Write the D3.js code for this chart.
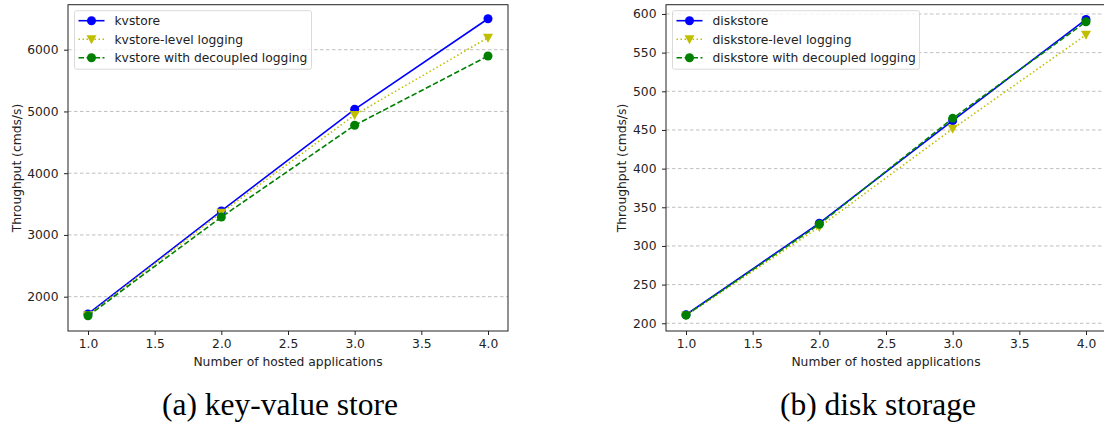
<!DOCTYPE html>
<html>
<head>
<meta charset="utf-8">
<script src="https://cdn.jsdelivr.net/npm/d3@7"></script>
<style>
  body { margin: 0; background: #fff; }
  svg { display: block; }
  .tick text { font-family: "DejaVu Sans", sans-serif; font-size: 12.3px; fill: #222; }
  .grid-line { stroke: #b0b0b0; stroke-width: 0.8; stroke-dasharray: 3.5 2.5; }
  .lbl { font-family: "DejaVu Sans", sans-serif; font-size: 12.3px; fill: #222; }
  .caption { font-family: "Liberation Serif", "Times New Roman", serif; font-size: 31.5px; fill: #000; }
</style>
</head>
<body>
<div class="app"></div>
<script>
'use strict'

var width = 1104;
var height = 425;

// hosted applications
var apps = [1, 2, 3, 4];

// (a) key-value store
var kvstore = [1720, 3388, 5035, 6502];
var kvLevel = [1700, 3360, 4943, 6194];
var kvDecoupled = [1690, 3290, 4776, 5898];
var kvNames = ["kvstore", "kvstore-level logging", "kvstore with decoupled logging"];
var kvTicks = [2000, 3000, 4000, 5000, 6000];

// (b) disk storage
var diskstore = [211, 329.5, 462, 593];
var diskLevel = [210, 324.5, 451.5, 573];
var diskDecoupled = [210.5, 328, 465, 590];
var diskNames = ["diskstore", "diskstore-level logging", "diskstore with decoupled logging"];
var diskTicks = [200, 250, 300, 350, 400, 450, 500, 550, 600];

var xTicks = [1.0, 1.5, 2.0, 2.5, 3.0, 3.5, 4.0];

// styles of the 3 series: solid o, dotted v, dashed o
var styles = [
  {color: "#0000ff", dash: null, marker: "circle"},
  {color: "#bfbf00", dash: "1.5 2.5", marker: "tri"},
  {color: "#008000", dash: "5.5 2.5", marker: "circle"}
];

var svg = d3.select(".app")
            .append("svg")
            .attr("width", width)
            .attr("height", height);

function drawMarker(g, type, x, y, color) {
  if (type == "circle") {
    g.append("circle")
     .attr("cx", x).attr("cy", y).attr("r", 4.5)
     .attr("fill", color);
  } else {
    var s = 5;
    g.append("path")
     .attr("d", "M" + (x - s) + "," + (y - s * 0.8) + "L" + (x + s) + "," + (y - s * 0.8) + "L" + x + "," + (y + s) + "Z")
     .attr("fill", color);
  }
}

function drawPanel(opt) {
  var g = svg.append("g");
  var x = d3.scaleLinear().domain([0.85, 4.15]).range([opt.left, opt.left + 440]);
  var y = d3.scaleLinear().domain(opt.yDomain).range([331, 4.7]);

  // horizontal grid
  g.selectAll(".grid-line")
   .data(opt.yTicks)
   .enter().append("line")
   .attr("class", "grid-line")
   .attr("x1", opt.left).attr("x2", opt.left + 440)
   .attr("y1", function(d) { return y(d); })
   .attr("y2", function(d) { return y(d); });

  var xAxis = d3.axisBottom(x).tickValues(xTicks).tickFormat(d3.format(".1f")).tickSize(4).tickPadding(4.5);
  var yAxis = d3.axisLeft(y).tickValues(opt.yTicks).tickFormat(d3.format("d")).tickSize(4).tickPadding(5.5);

  g.append("g").attr("transform", "translate(0,331)").call(xAxis)
   .call(function(a) { a.select(".domain").remove(); a.selectAll("line").attr("stroke", "#222"); });
  g.append("g").attr("transform", "translate(" + opt.left + ",0)").call(yAxis)
   .call(function(a) { a.select(".domain").remove(); a.selectAll("line").attr("stroke", "#222"); });

  // series
  var line = d3.line()
               .x(function(d) { return x(d[0]); })
               .y(function(d) { return y(d[1]); });

  opt.series.forEach(function(vals, i) {
    var st = styles[i];
    var pts = apps.map(function(a, j) { return [a, vals[j]]; });
    g.append("path")
     .attr("d", line(pts))
     .attr("fill", "none")
     .attr("stroke", st.color)
     .attr("stroke-width", 1.6)
     .attr("stroke-dasharray", st.dash);
    pts.forEach(function(p) { drawMarker(g, st.marker, x(p[0]), y(p[1]), st.color); });
  });

  // frame
  g.append("rect")
   .attr("x", opt.left).attr("y", 4.7)
   .attr("width", 440).attr("height", 331 - 4.7)
   .attr("fill", "none").attr("stroke", "#222").attr("stroke-width", 1);

  // legend
  var lx = opt.left + 6.5, ly = 10.7;
  g.append("rect")
   .attr("x", lx).attr("y", ly)
   .attr("width", opt.legendWidth).attr("height", 58.5)
   .attr("rx", 2)
   .attr("fill", "rgba(255,255,255,0.8)")
   .attr("stroke", "#d0d0d0").attr("stroke-width", 0.8);
  opt.names.forEach(function(name, i) {
    var st = styles[i];
    var yy = 20.7 + i * 18.5;
    g.append("line")
     .attr("x1", lx + 4).attr("x2", lx + 30)
     .attr("y1", yy).attr("y2", yy)
     .attr("stroke", st.color).attr("stroke-width", 1.6)
     .attr("stroke-dasharray", st.dash);
    drawMarker(g, st.marker, lx + 17, yy, st.color);
    g.append("text")
     .attr("class", "lbl")
     .attr("x", lx + 40).attr("y", yy + 4.5)
     .text(name);
  });

  // axis labels
  g.append("text")
   .attr("class", "lbl")
   .attr("text-anchor", "middle")
   .attr("x", opt.left + 220).attr("y", 366)
   .text("Number of hosted applications");

  g.append("text")
   .attr("class", "lbl")
   .attr("text-anchor", "middle")
   .attr("transform", "translate(" + opt.yLabelX + ",168) rotate(-90)")
   .text("Throughput (cmds/s)");

  // caption
  g.append("text")
   .attr("class", "caption")
   .attr("text-anchor", "middle")
   .attr("x", opt.captionX).attr("y", 415)
   .text(opt.caption);
}

drawPanel({
  left: 68,
  yDomain: [1444, 6729],
  yTicks: kvTicks,
  series: [kvstore, kvLevel, kvDecoupled],
  names: kvNames,
  legendWidth: 237,
  yLabelX: 20.5,
  captionX: 280,
  caption: "(a) key-value store"
});

drawPanel({
  left: 666,
  yDomain: [190, 612],
  yTicks: diskTicks,
  series: [diskstore, diskLevel, diskDecoupled],
  names: diskNames,
  legendWidth: 247,
  yLabelX: 625.5,
  captionX: 878,
  caption: "(b) disk storage"
});
</script>
</body>
</html>
